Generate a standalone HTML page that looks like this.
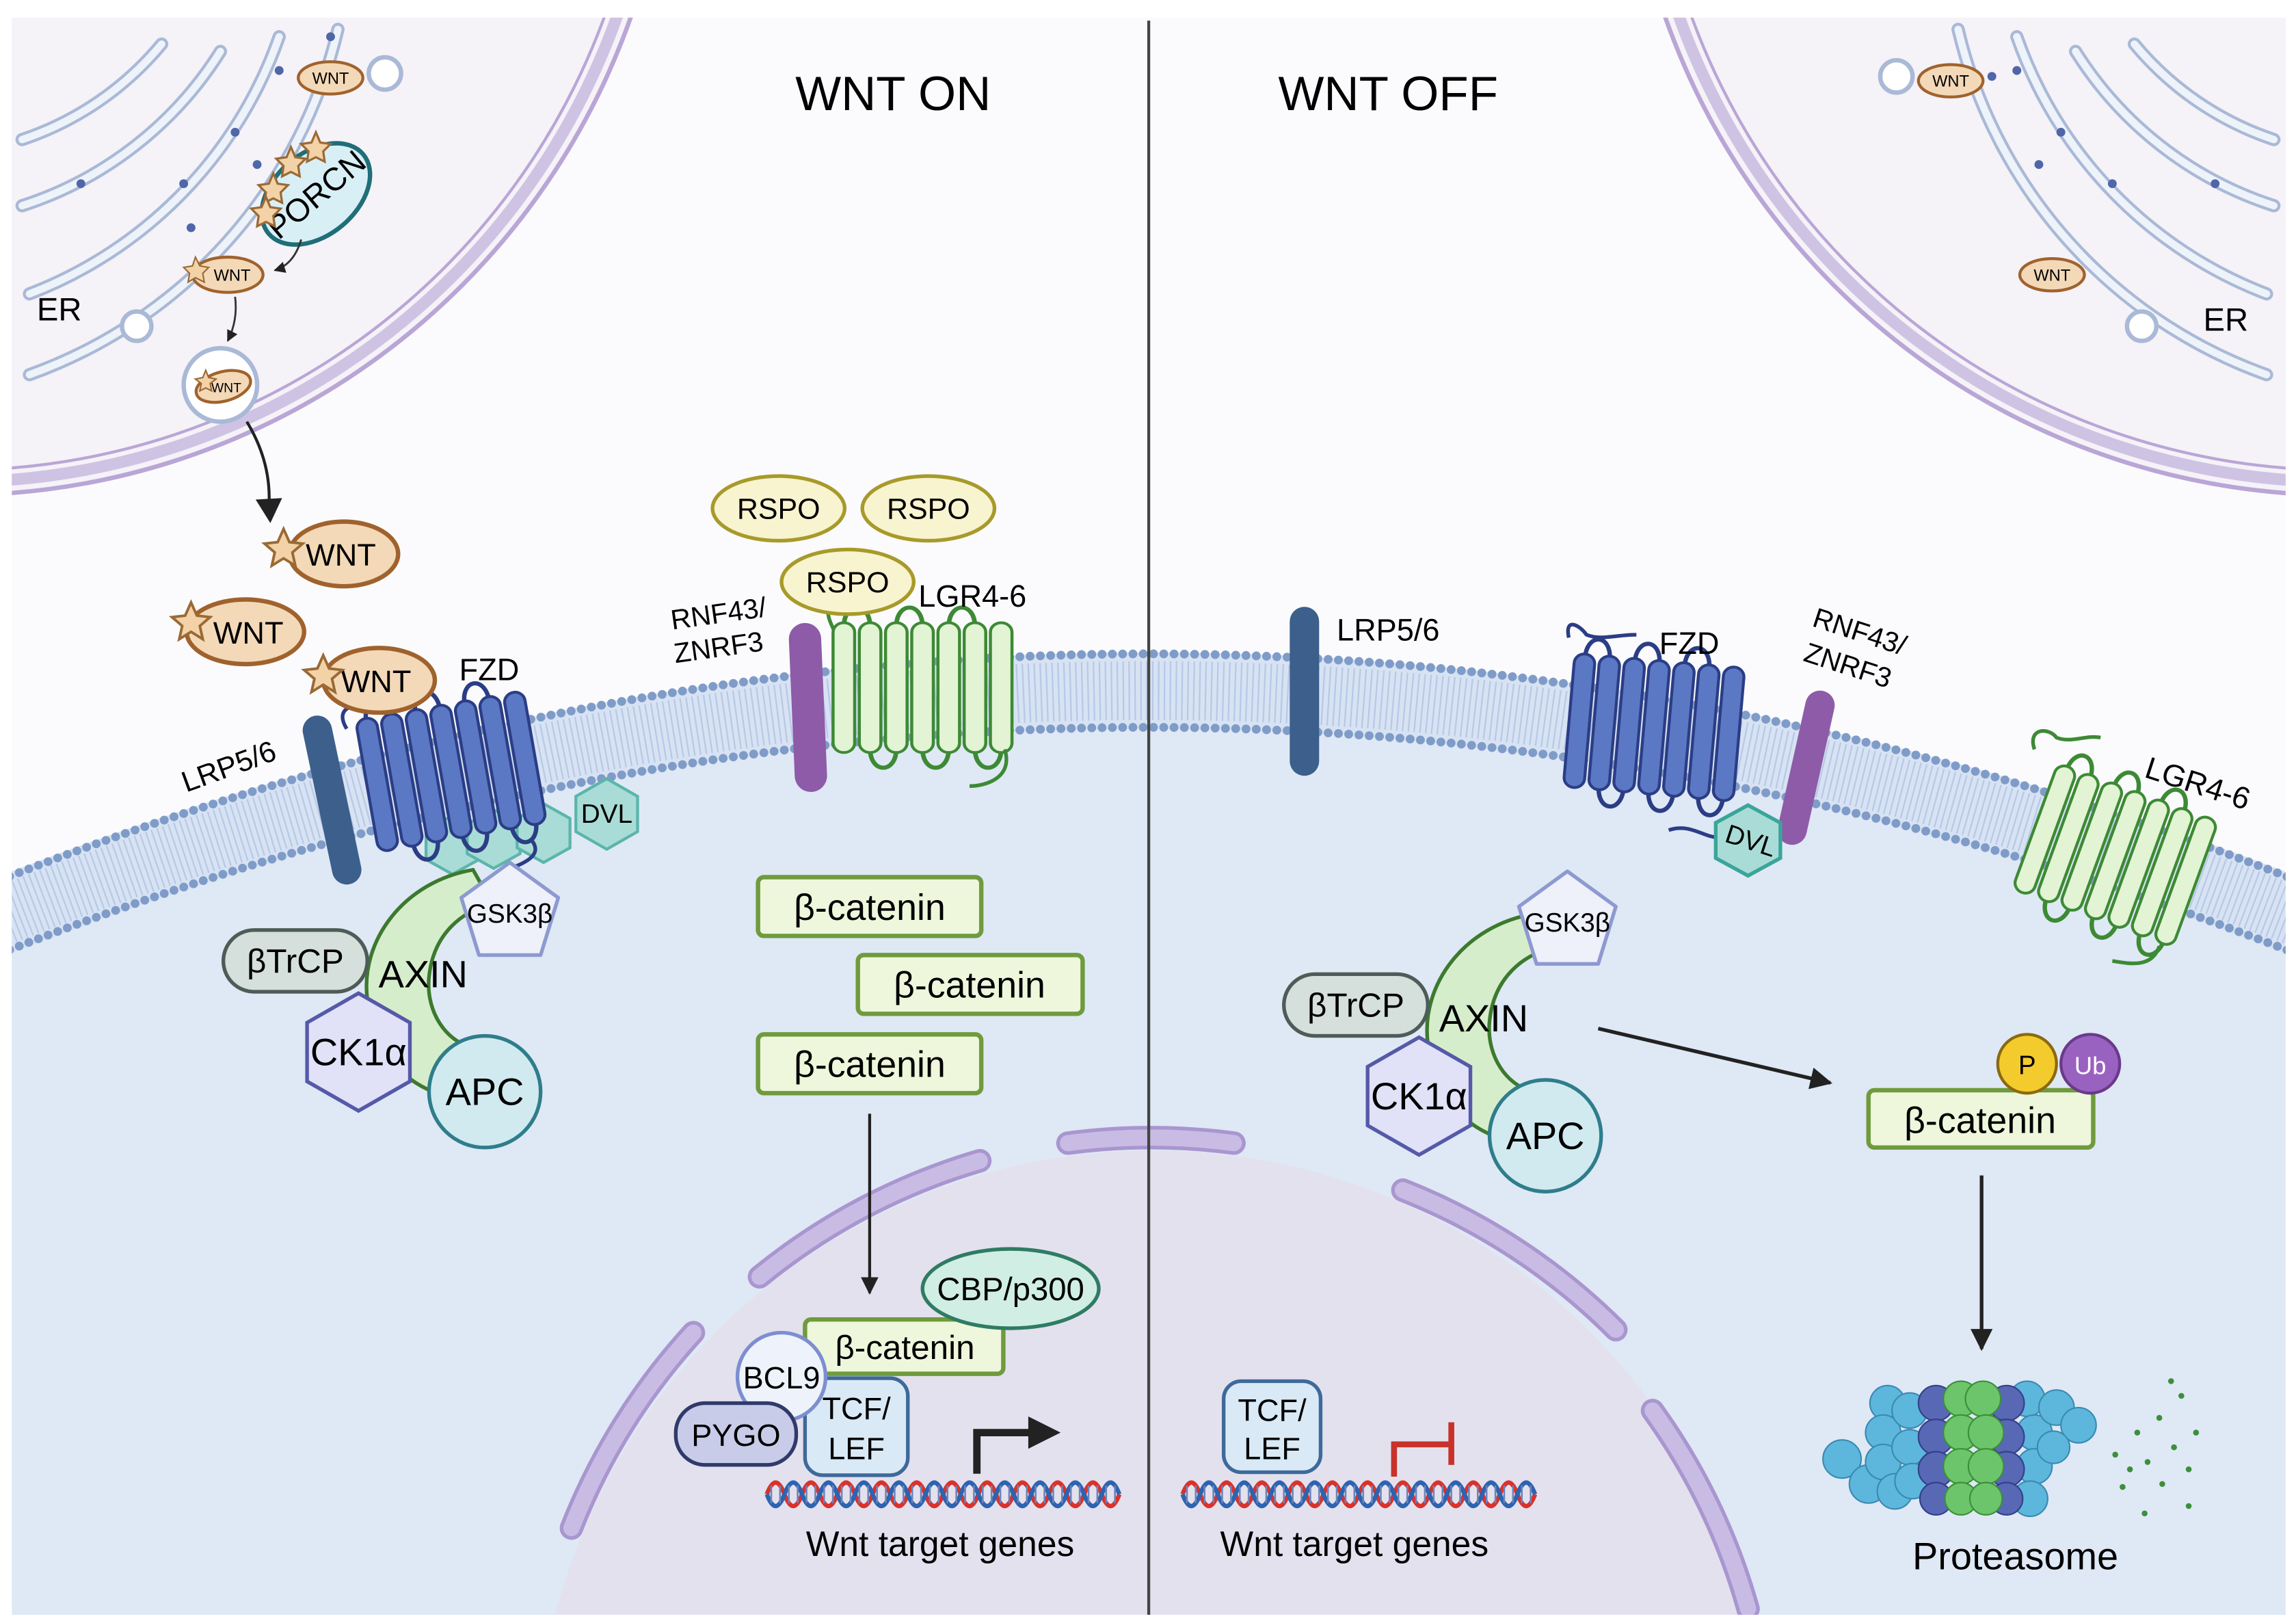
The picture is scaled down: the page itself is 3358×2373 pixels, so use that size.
<!DOCTYPE html>
<html><head><meta charset="utf-8"><style>
html,body{margin:0;padding:0;background:#fff;width:3358px;height:2373px;overflow:hidden;}
svg{display:block;}
text{font-family:"Liberation Sans",sans-serif;}
</style></head><body>
<svg width="3358" height="2373" viewBox="0 0 1563 1104.6" xmlns="http://www.w3.org/2000/svg">
<defs>
<clipPath id="fr"><rect x="8" y="12" width="1548" height="1087"/></clipPath>
<g id="hel">
 <path d="M-51,-45 C-51,-64 -34,-64 -34,-45 M-34,45 C-34,64 -17,64 -17,45 M-17,-45 C-17,-64 0,-64 0,-45 M0,45 C0,64 17,64 17,45 M17,-45 C17,-64 34,-64 34,-45 M34,45 C34,64 51,64 51,45" fill="none" style="stroke:var(--s)" stroke-width="3"/>
 <rect x="-58" y="-48" width="14" height="96" rx="7" style="fill:var(--f);stroke:var(--s)" stroke-width="2"/>
 <rect x="-41" y="-48" width="14" height="96" rx="7" style="fill:var(--f);stroke:var(--s)" stroke-width="2"/>
 <rect x="-24" y="-48" width="14" height="96" rx="7" style="fill:var(--f);stroke:var(--s)" stroke-width="2"/>
 <rect x="-7" y="-48" width="14" height="96" rx="7" style="fill:var(--f);stroke:var(--s)" stroke-width="2"/>
 <rect x="10" y="-48" width="14" height="96" rx="7" style="fill:var(--f);stroke:var(--s)" stroke-width="2"/>
 <rect x="27" y="-48" width="14" height="96" rx="7" style="fill:var(--f);stroke:var(--s)" stroke-width="2"/>
 <rect x="44" y="-48" width="14" height="96" rx="7" style="fill:var(--f);stroke:var(--s)" stroke-width="2"/>
</g>
<g id="dna">
 <path d="M0,0 q6,-16 12,0 t12,0 t12,0 t12,0 t12,0 t12,0 t12,0 t12,0 t12,0 t12,0 t12,0 t12,0 t12,0 t12,0 t12,0 t12,0 t12,0 t12,0 t12,0 t12,0" fill="none" stroke="#d9322c" stroke-width="3"/>
 <path d="M0,0 q6,16 12,0 t12,0 t12,0 t12,0 t12,0 t12,0 t12,0 t12,0 t12,0 t12,0 t12,0 t12,0 t12,0 t12,0 t12,0 t12,0 t12,0 t12,0 t12,0 t12,0" fill="none" stroke="#2d63b0" stroke-width="3"/>
 <path d="M3,-6v12M9,-6v12M15,-6v12M21,-6v12M27,-6v12M33,-6v12M39,-6v12M45,-6v12M51,-6v12M57,-6v12M63,-6v12M69,-6v12M75,-6v12M81,-6v12M87,-6v12M93,-6v12M99,-6v12M105,-6v12M111,-6v12M117,-6v12M123,-6v12M129,-6v12M135,-6v12M141,-6v12M147,-6v12M153,-6v12M159,-6v12M165,-6v12M171,-6v12M177,-6v12M183,-6v12M189,-6v12M195,-6v12M201,-6v12M207,-6v12M213,-6v12M219,-6v12M225,-6v12M231,-6v12M237,-6v12" stroke="#6b84b8" stroke-width="1.2"/>
</g>
<marker id="ah" viewBox="0 0 10 10" refX="9" refY="5" markerWidth="6" markerHeight="6" orient="auto"><path d="M0,0 L10,5 L0,10 Z" fill="#222"/></marker>
</defs>
<g clip-path="url(#fr)">
<rect x="0" y="0" width="1563" height="1105" fill="#fbfbfd"/>
<!-- ER left -->
<circle cx="-30" cy="-150" r="487" fill="#f5f2f8" stroke="#b9a6d6" stroke-width="3"/>
<circle cx="-30" cy="-150" r="478" fill="none" stroke="#cfc3e3" stroke-width="8"/>
<circle cx="-30" cy="-150" r="470" fill="none" stroke="#b9a6d6" stroke-width="2"/>
<g fill="none" stroke-linecap="round">
 <path d="M230,20 A330,330 0 0 1 20,255" stroke="#a9b9d6" stroke-width="9"/>
 <path d="M230,20 A330,330 0 0 1 20,255" stroke="#eef3fa" stroke-width="5"/>
 <path d="M190,25 A290,290 0 0 1 20,200" stroke="#a9b9d6" stroke-width="9"/>
 <path d="M190,25 A290,290 0 0 1 20,200" stroke="#eef3fa" stroke-width="5"/>
 <path d="M150,35 A250,250 0 0 1 15,140" stroke="#a9b9d6" stroke-width="9"/>
 <path d="M150,35 A250,250 0 0 1 15,140" stroke="#eef3fa" stroke-width="5"/>
 <path d="M110,30 A210,210 0 0 1 15,95" stroke="#a9b9d6" stroke-width="9"/>
 <path d="M110,30 A210,210 0 0 1 15,95" stroke="#eef3fa" stroke-width="5"/>
</g>
<g fill="#4f66a8"><circle cx="55" cy="125" r="3"/><circle cx="125" cy="125" r="3"/><circle cx="175" cy="112" r="3"/><circle cx="160" cy="90" r="3"/><circle cx="190" cy="48" r="3"/><circle cx="207" cy="52" r="3"/><circle cx="130" cy="155" r="3"/><circle cx="225" cy="25" r="3"/></g>
<circle cx="262" cy="50" r="11" fill="#fff" stroke="#a9b9d6" stroke-width="3"/>
<circle cx="93" cy="222" r="10" fill="#fff" stroke="#a9b9d6" stroke-width="3"/>
<!-- ER right -->
<circle cx="1593" cy="-150" r="487" fill="#f5f2f8" stroke="#b9a6d6" stroke-width="3"/>
<circle cx="1593" cy="-150" r="478" fill="none" stroke="#cfc3e3" stroke-width="8"/>
<circle cx="1593" cy="-150" r="470" fill="none" stroke="#b9a6d6" stroke-width="2"/>
<g fill="none" stroke-linecap="round">
 <path d="M1333,20 A330,330 0 0 0 1543,255" stroke="#a9b9d6" stroke-width="9"/>
 <path d="M1333,20 A330,330 0 0 0 1543,255" stroke="#eef3fa" stroke-width="5"/>
 <path d="M1373,25 A290,290 0 0 0 1543,200" stroke="#a9b9d6" stroke-width="9"/>
 <path d="M1373,25 A290,290 0 0 0 1543,200" stroke="#eef3fa" stroke-width="5"/>
 <path d="M1413,35 A250,250 0 0 0 1548,140" stroke="#a9b9d6" stroke-width="9"/>
 <path d="M1413,35 A250,250 0 0 0 1548,140" stroke="#eef3fa" stroke-width="5"/>
 <path d="M1453,30 A210,210 0 0 0 1548,95" stroke="#a9b9d6" stroke-width="9"/>
 <path d="M1453,30 A210,210 0 0 0 1548,95" stroke="#eef3fa" stroke-width="5"/>
</g>
<g fill="#4f66a8"><circle cx="1508" cy="125" r="3"/><circle cx="1438" cy="125" r="3"/><circle cx="1388" cy="112" r="3"/><circle cx="1403" cy="90" r="3"/><circle cx="1373" cy="48" r="3"/><circle cx="1356" cy="52" r="3"/></g>
<circle cx="1291" cy="52" r="11" fill="#fff" stroke="#a9b9d6" stroke-width="3"/>
<circle cx="1458" cy="222" r="10" fill="#fff" stroke="#a9b9d6" stroke-width="3"/>
<ellipse cx="1328" cy="55" rx="22" ry="11" fill="#f3d9b8" stroke="#a0622d" stroke-width="2"/><text x="1328" y="59" font-size="11" text-anchor="middle">WNT</text>
<ellipse cx="1397" cy="187" rx="22" ry="11" fill="#f3d9b8" stroke="#a0622d" stroke-width="2"/><text x="1397" y="191" font-size="11" text-anchor="middle">WNT</text>
<text x="1500" y="225" font-size="22">ER</text>
<text x="25" y="218" font-size="22">ER</text>

<!-- left ER WNT / PORCN -->
<ellipse cx="225" cy="53" rx="22" ry="11" fill="#f3d9b8" stroke="#a0622d" stroke-width="2"/><text x="225" y="57" font-size="11" text-anchor="middle">WNT</text>
<g transform="rotate(-40 215 132)"><ellipse cx="215" cy="132" rx="42" ry="28" fill="#d9eff6" stroke="#1f6e78" stroke-width="3"/><text x="215" y="140" font-size="22" text-anchor="middle">PORCN</text></g>
<g fill="#f4d2a8" stroke="#9a6a35" stroke-width="1.5">
 <path d="M215,90 l3,7 7,1 -5,5 1,7 -6,-3 -6,3 1,-7 -5,-5 7,-1z"/>
 <path d="M198,100 l3,7 7,1 -5,5 1,7 -6,-3 -6,3 1,-7 -5,-5 7,-1z"/>
 <path d="M186,118 l3,7 7,1 -5,5 1,7 -6,-3 -6,3 1,-7 -5,-5 7,-1z"/>
 <path d="M181,134 l3,7 7,1 -5,5 1,7 -6,-3 -6,3 1,-7 -5,-5 7,-1z"/>
</g>
<path d="M205,163 Q200,180 187,184" fill="none" stroke="#333" stroke-width="1.3" marker-end="url(#ah)"/>
<ellipse cx="155" cy="187" rx="24" ry="12" fill="#f3d9b8" stroke="#a0622d" stroke-width="2"/><text x="158" y="191" font-size="11" text-anchor="middle">WNT</text>
<path d="M133,175 l3,6 6,1 -4,4 1,6 -6,-3 -5,3 1,-6 -4,-4 6,-1z" fill="#f4d2a8" stroke="#9a6a35"/>
<path d="M160,202 Q162,218 155,232" fill="none" stroke="#333" stroke-width="1.3" marker-end="url(#ah)"/>
<circle cx="150" cy="262" r="25" fill="#fff" stroke="#a9b9d6" stroke-width="3"/>
<ellipse cx="152" cy="263" rx="19" ry="10" transform="rotate(-15 152 263)" fill="#f3d9b8" stroke="#a0622d" stroke-width="2"/><text x="154" y="267" font-size="9" text-anchor="middle">WNT</text>
<path d="M140,252 l2,5 5,1 -4,3 1,5 -4,-2 -4,2 1,-5 -4,-3 5,-1z" fill="#f4d2a8" stroke="#9a6a35"/>
<path d="M168,287 Q185,315 183,345" fill="none" stroke="#222" stroke-width="2"/>
<path d="M174,340 L184,356 L192,339 Z" fill="#222"/>

<!-- cell interior -->
<path d="M0,624 Q782,316 1563,624 L1563,1110 L0,1110 Z" fill="#dfe8f5"/>
<!-- nucleus -->
<circle cx="785" cy="1203" r="420" fill="#e3e1ee"/>
<g fill="none" stroke-linecap="round">
<g stroke="#a996cf" stroke-width="16">
 <path d="M389,1040 A428,428 0 0 1 472,907"/>
 <path d="M517,869 A428,428 0 0 1 667,790"/>
 <path d="M727,778 A428,428 0 0 1 840,778"/>
 <path d="M955,810 A428,428 0 0 1 1100,905"/>
 <path d="M1125,960 A428,428 0 0 1 1190,1095"/>
</g>
<g stroke="#c8bce4" stroke-width="11">
 <path d="M389,1040 A428,428 0 0 1 472,907"/>
 <path d="M517,869 A428,428 0 0 1 667,790"/>
 <path d="M727,778 A428,428 0 0 1 840,778"/>
 <path d="M955,810 A428,428 0 0 1 1100,905"/>
 <path d="M1125,960 A428,428 0 0 1 1190,1095"/>
</g>
</g>
<!-- membrane -->
<path d="M0,624 Q782,316 1563,624" fill="none" stroke="#d7e2f3" stroke-width="52"/>
<path d="M0,624 Q782,316 1563,624" fill="none" stroke="#b6c8e6" stroke-width="40" stroke-dasharray="1 3"/>
<path d="M0,599 Q782,291 1563,599" fill="none" stroke="#7f9cc8" stroke-width="6" stroke-linecap="round" stroke-dasharray="0 7"/>
<path d="M0,649 Q782,341 1563,649" fill="none" stroke="#7f9cc8" stroke-width="6" stroke-linecap="round" stroke-dasharray="0 7"/>

<!-- divider -->
<line x1="782" y1="14" x2="782" y2="1100" stroke="#444" stroke-width="2"/>
<text x="608" y="75" font-size="33" text-anchor="middle">WNT ON</text>
<text x="945" y="75" font-size="33" text-anchor="middle">WNT OFF</text>

<!-- left LRP -->
<line x1="216" y1="497" x2="236" y2="592" stroke="#3c5f8c" stroke-width="20" stroke-linecap="round"/>
<text x="158" y="528" font-size="20" transform="rotate(-20 158 528)" text-anchor="middle">LRP5/6</text>
<!-- DVL hexes left -->
<g fill="#a9dcd6" stroke="#5bb5ab" stroke-width="2">
 <path d="M290,565 l18,-10 18,10 0,20 -18,10 -18,-10z"/>
 <path d="M318,561 l18,-10 18,10 0,20 -18,10 -18,-10z"/>
 <path d="M352,557 l18,-10 18,10 0,20 -18,10 -18,-10z"/>
 <path d="M392,542 l21,-12 21,12 0,24 -21,12 -21,-12z"/>
</g>
<text x="413" y="560" font-size="18" text-anchor="middle">DVL</text>
<!-- FZD left -->
<path d="M236,496 C226,480 245,478 252,482" fill="none" stroke="#2b3d85" stroke-width="2.5"/>
<use href="#hel" transform="translate(307,525) rotate(-10) scale(1,0.95)" style="--f:#5b78c4;--s:#2b3d85"/>
<path d="M362,572 C372,585 348,590 338,595" fill="none" stroke="#2b3d85" stroke-width="2.5"/>
<text x="333" y="463" font-size="21" text-anchor="middle">FZD</text>
<!-- left WNTs -->
<g fill="#f3d9b8" stroke="#a0622d" stroke-width="3">
 <ellipse cx="234" cy="377" rx="37" ry="22"/>
 <ellipse cx="167" cy="430" rx="40" ry="22"/>
 <ellipse cx="258" cy="463" rx="38" ry="22"/>
</g>
<g font-size="21" text-anchor="middle"><text x="232" y="385">WNT</text><text x="169" y="438">WNT</text><text x="256" y="471">WNT</text></g>
<g fill="#f4d2a8" stroke="#9a6a35" stroke-width="1.8">
 <path d="M193,360 l4,9 9,1 -7,6 2,9 -8,-5 -8,5 2,-9 -7,-6 9,-1z"/>
 <path d="M130,410 l4,9 9,1 -7,6 2,9 -8,-5 -8,5 2,-9 -7,-6 9,-1z"/>
 <path d="M220,446 l4,9 9,1 -7,6 2,9 -8,-5 -8,5 2,-9 -7,-6 9,-1z"/>
</g>
<!-- AXIN left -->
<path d="M322,592 C275,600 245,640 250,680 C253,710 270,735 300,745 L318,712 C300,705 290,685 292,665 C295,635 315,620 335,615 Z" fill="#d6edcc" stroke="#3c7a2e" stroke-width="2.5"/>
<path d="M347,587 l33,24 -12,39 -42,0 -12,-39z" fill="#eef0fa" stroke="#8d9ad0" stroke-width="2.5" stroke-linejoin="round"/>
<text x="347" y="628" font-size="18" text-anchor="middle">GSK3β</text>
<rect x="152" y="633" width="98" height="42" rx="21" fill="#d5dfdc" stroke="#4e5c58" stroke-width="2.5"/>
<text x="201" y="662" font-size="23" text-anchor="middle">βTrCP</text>
<text x="288" y="672" font-size="26" text-anchor="middle">AXIN</text>
<path d="M244,676 l35,20 0,40 -35,20 -35,-20 0,-40z" fill="#e1e1f7" stroke="#5559a8" stroke-width="2.5"/>
<text x="244" y="725" font-size="26" text-anchor="middle">CK1α</text>
<circle cx="330" cy="743" r="38" fill="#d0eaf0" stroke="#2f7d8a" stroke-width="2.5"/>
<text x="330" y="752" font-size="26" text-anchor="middle">APC</text>

<!-- RSPO / RNF43 / LGR left -->
<line x1="548" y1="435" x2="552" y2="528" stroke="#8e5ba8" stroke-width="22" stroke-linecap="round"/>
<text x="490" y="424" font-size="19" text-anchor="middle" transform="rotate(-8 490 424)">RNF43/</text>
<text x="490" y="447" font-size="19" text-anchor="middle" transform="rotate(-8 490 447)">ZNRF3</text>
<path d="M565,410 C560,420 570,430 572,440" fill="none" stroke="#3d8a35" stroke-width="2.5"/>
<use href="#hel" transform="translate(628,468) scale(1.05,0.92)" style="--f:#e2f4d4;--s:#3d8a35"/>
<path d="M684,510 C690,530 670,535 660,535" fill="none" stroke="#3d8a35" stroke-width="2.5"/>
<text x="662" y="413" font-size="21" text-anchor="middle">LGR4-6</text>
<g fill="#f8f4d0" stroke="#a89a2a" stroke-width="2.5">
 <ellipse cx="530" cy="346" rx="45" ry="22"/><ellipse cx="632" cy="346" rx="45" ry="22"/><ellipse cx="577" cy="396" rx="45" ry="22"/>
</g>
<g font-size="20" text-anchor="middle"><text x="530" y="353">RSPO</text><text x="632" y="353">RSPO</text><text x="577" y="403">RSPO</text></g>

<!-- beta-catenins -->
<g fill="#eef6dc" stroke="#6f9b3c" stroke-width="3">
 <rect x="516" y="597" width="152" height="40" rx="4"/>
 <rect x="584" y="650" width="153" height="40" rx="4"/>
 <rect x="516" y="704" width="152" height="40" rx="4"/>
 <rect x="548" y="898" width="135" height="37" rx="4"/>
 <rect x="1272" y="742" width="153" height="39" rx="4"/>
</g>
<g font-size="25" text-anchor="middle"><text x="592" y="626">β-catenin</text><text x="660" y="679">β-catenin</text><text x="592" y="733">β-catenin</text><text x="1348" y="771">β-catenin</text></g>
<text x="616" y="925" font-size="23" text-anchor="middle">β-catenin</text>
<line x1="592" y1="758" x2="592" y2="880" stroke="#222" stroke-width="2" marker-end="url(#ah)"/>
<ellipse cx="688" cy="877" rx="60" ry="27" fill="#d0eee4" stroke="#2f7b63" stroke-width="2.5"/>
<text x="688" y="885" font-size="22" text-anchor="middle">CBP/p300</text>
<rect x="548" y="938" width="70" height="66" rx="12" fill="#d9e9f6" stroke="#3d6a9a" stroke-width="2.5"/>
<text x="583" y="966" font-size="21" text-anchor="middle">TCF/</text><text x="583" y="993" font-size="21" text-anchor="middle">LEF</text>
<circle cx="532" cy="937" r="30" fill="#eef3fb" stroke="#7d8ed0" stroke-width="2.5"/>
<text x="532" y="945" font-size="21" text-anchor="middle">BCL9</text>
<rect x="460" y="955" width="82" height="42" rx="20" fill="#c8cce8" stroke="#303a6a" stroke-width="2.5"/>
<text x="501" y="984" font-size="21" text-anchor="middle">PYGO</text>
<use href="#dna" transform="translate(522,1017)"/>
<path d="M665,1003 L665,975 L702,975" fill="none" stroke="#222" stroke-width="5"/>
<path d="M700,964 L722,975 L700,986 Z" fill="#222"/>
<text x="640" y="1059" font-size="24" text-anchor="middle">Wnt target genes</text>

<!-- right side -->
<line x1="888" y1="423" x2="888" y2="518" stroke="#3c5f8c" stroke-width="20" stroke-linecap="round"/>
<text x="945" y="436" font-size="21" text-anchor="middle">LRP5/6</text>
<path d="M1068,434 C1065,420 1075,425 1080,432 C1090,436 1100,432 1114,432" fill="none" stroke="#2b3d85" stroke-width="2.5"/>
<use href="#hel" transform="translate(1126,495) rotate(5) scale(1,0.95)" style="--f:#5b78c4;--s:#2b3d85"/>
<text x="1150" y="445" font-size="21" text-anchor="middle">FZD</text>
<line x1="1239" y1="480" x2="1220" y2="565" stroke="#8e5ba8" stroke-width="20" stroke-linecap="round"/>
<text x="1264" y="436" font-size="19" text-anchor="middle" transform="rotate(18 1264 436)">RNF43/</text>
<text x="1256" y="459" font-size="19" text-anchor="middle" transform="rotate(18 1256 459)">ZNRF3</text>
<path d="M1136,565 C1150,560 1160,570 1170,570" fill="none" stroke="#2b3d85" stroke-width="2.5"/>
<path d="M1168,560 l22,-12 22,12 0,24 -22,12 -22,-12z" fill="#a9dcd6" stroke="#3aa59a" stroke-width="2.5"/>
<text x="1190" y="578" font-size="18" text-anchor="middle" transform="rotate(18 1190 578)">DVL</text>
<path d="M1385,510 C1380,495 1395,495 1400,502 C1410,506 1420,500 1430,502" fill="none" stroke="#3d8a35" stroke-width="2.5"/>
<use href="#hel" transform="translate(1440,582) rotate(20) scale(1,0.95)" style="--f:#e2f4d4;--s:#3d8a35"/>
<path d="M1470,644 C1465,659 1450,656 1438,654" fill="none" stroke="#3d8a35" stroke-width="2.5"/>
<text x="1494" y="540" font-size="21" text-anchor="middle" transform="rotate(18 1494 540)">LGR4-6</text>

<g transform="translate(722,30)">
<path d="M322,592 C275,600 245,640 250,680 C253,710 270,735 300,745 L318,712 C300,705 290,685 292,665 C295,635 315,620 335,615 Z" fill="#d6edcc" stroke="#3c7a2e" stroke-width="2.5"/>
<rect x="152" y="633" width="98" height="42" rx="21" fill="#d5dfdc" stroke="#4e5c58" stroke-width="2.5"/>
<text x="201" y="662" font-size="23" text-anchor="middle">βTrCP</text>
<text x="288" y="672" font-size="26" text-anchor="middle">AXIN</text>
<path d="M244,676 l35,20 0,40 -35,20 -35,-20 0,-40z" fill="#e1e1f7" stroke="#5559a8" stroke-width="2.5"/>
<text x="244" y="725" font-size="26" text-anchor="middle">CK1α</text>
<circle cx="330" cy="743" r="38" fill="#d0eaf0" stroke="#2f7d8a" stroke-width="2.5"/>
<text x="330" y="752" font-size="26" text-anchor="middle">APC</text>
</g>
<path d="M1067,593 l33,24 -12,39 -42,0 -12,-39z" fill="#eef0fa" stroke="#8d9ad0" stroke-width="2.5" stroke-linejoin="round"/>
<text x="1067" y="634" font-size="18" text-anchor="middle">GSK3β</text>
<line x1="1088" y1="700" x2="1246" y2="737" stroke="#222" stroke-width="2.5" marker-end="url(#ah)"/>
<circle cx="1380" cy="724" r="20" fill="#f4cb2c" stroke="#8a6a10" stroke-width="2"/><text x="1380" y="731" font-size="18" text-anchor="middle">P</text>
<circle cx="1423" cy="724" r="20" fill="#9a62c0" stroke="#6a3a8a" stroke-width="2"/><text x="1423" y="731" font-size="17" text-anchor="middle" fill="#fff">Ub</text>
<line x1="1349" y1="800" x2="1349" y2="918" stroke="#222" stroke-width="2.5" marker-end="url(#ah)"/>
<!-- proteasome -->
<g stroke="#3a8ab0" stroke-width="1">
<g fill="#5db7dd"><circle cx="1254" cy="993" r="13"/><circle cx="1272" cy="1010" r="13"/><circle cx="1285" cy="955" r="12"/><circle cx="1282" cy="975" r="12"/><circle cx="1282" cy="995" r="12"/><circle cx="1290" cy="1015" r="12"/><circle cx="1300" cy="960" r="12"/><circle cx="1300" cy="985" r="12"/><circle cx="1302" cy="1008" r="12"/>
<circle cx="1380" cy="952" r="12"/><circle cx="1385" cy="975" r="12"/><circle cx="1385" cy="998" r="12"/><circle cx="1382" cy="1020" r="12"/><circle cx="1400" cy="958" r="12"/><circle cx="1415" cy="970" r="12"/><circle cx="1398" cy="985" r="11"/></g>
<g fill="#5868b5" stroke="#33408a"><circle cx="1318" cy="955" r="12"/><circle cx="1318" cy="978" r="12"/><circle cx="1318" cy="1000" r="12"/><circle cx="1318" cy="1020" r="11"/><circle cx="1366" cy="955" r="12"/><circle cx="1366" cy="978" r="12"/><circle cx="1366" cy="1000" r="12"/><circle cx="1366" cy="1020" r="11"/></g>
<g fill="#6cc56a" stroke="#3c8f3a"><circle cx="1335" cy="952" r="12"/><circle cx="1350" cy="952" r="12"/><circle cx="1335" cy="975" r="12"/><circle cx="1352" cy="975" r="12"/><circle cx="1335" cy="998" r="12"/><circle cx="1352" cy="998" r="12"/><circle cx="1335" cy="1020" r="11"/><circle cx="1352" cy="1020" r="11"/></g>
</g>
<g fill="#3c8f3a"><circle cx="1440" cy="990" r="2"/><circle cx="1450" cy="1000" r="2"/><circle cx="1455" cy="975" r="2"/><circle cx="1462" cy="995" r="2"/><circle cx="1470" cy="965" r="2"/><circle cx="1472" cy="1010" r="2"/><circle cx="1480" cy="985" r="2"/><circle cx="1485" cy="950" r="2"/><circle cx="1490" cy="1025" r="2"/><circle cx="1495" cy="975" r="2"/><circle cx="1445" cy="1012" r="2"/><circle cx="1460" cy="1030" r="2"/><circle cx="1478" cy="940" r="2"/><circle cx="1490" cy="1000" r="2"/></g>
<text x="1372" y="1068" font-size="26" text-anchor="middle">Proteasome</text>
<rect x="833" y="940" width="66" height="62" rx="12" fill="#d9e9f6" stroke="#3d6a9a" stroke-width="2.5"/>
<text x="866" y="967" font-size="21" text-anchor="middle">TCF/</text><text x="866" y="993" font-size="21" text-anchor="middle">LEF</text>
<use href="#dna" transform="translate(805,1017)"/>
<path d="M949,1005 L949,983 L988,983 M988,968 L988,997" fill="none" stroke="#c8322a" stroke-width="4"/>
<text x="922" y="1059" font-size="24" text-anchor="middle">Wnt target genes</text>
</g>
</svg>
</body></html>
